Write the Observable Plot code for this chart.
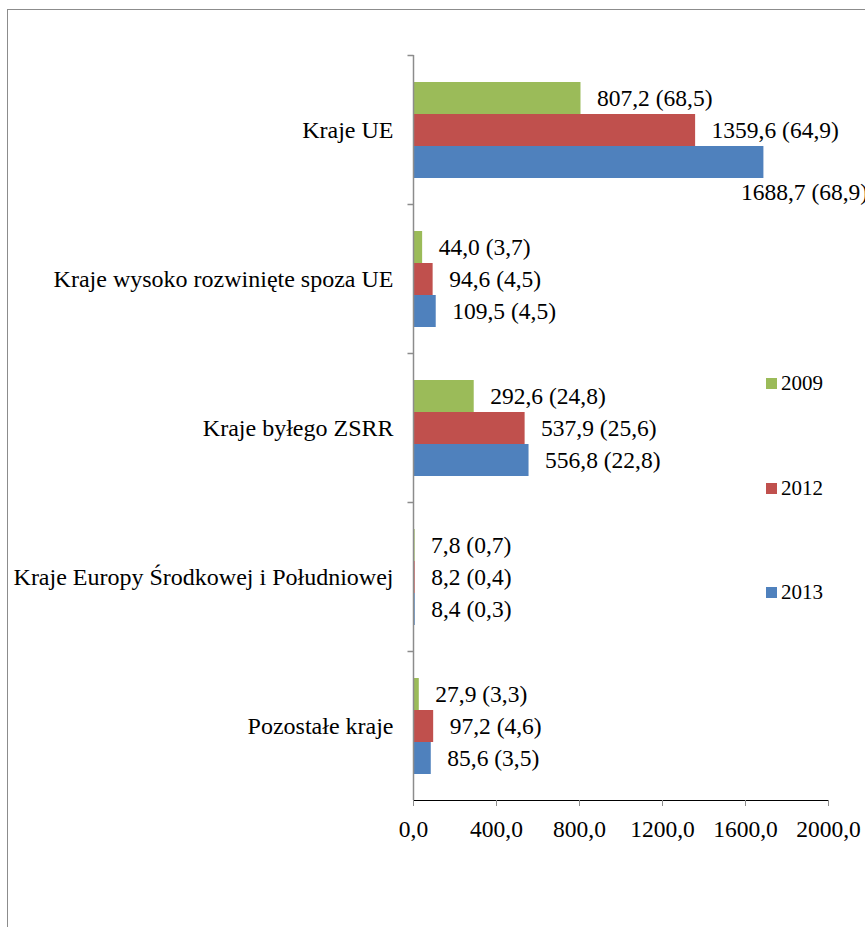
<!DOCTYPE html>
<html><head><meta charset="utf-8">
<script src="https://cdn.jsdelivr.net/npm/d3@7"></script>
<script src="https://cdn.jsdelivr.net/npm/@observablehq/plot@0.6"></script>
<style>
html,body{margin:0;padding:0;background:#fff;overflow:hidden;}
#wrap{position:relative;width:865px;height:927px;overflow:hidden;font-family:"Liberation Serif","Times New Roman",Times,serif;}
#border{position:absolute;left:7px;top:9px;width:920px;height:960px;border:1.5px solid #8c8c8c;box-sizing:border-box;}
#chart{position:absolute;left:0;top:0;}
#chart svg, #chart svg text{font-family:"Liberation Serif","Times New Roman",Times,serif !important;font-size:23.5px;}
#chart svg [aria-label*="fy-axis"] text{font-size:24px;}
#chart svg [aria-label*="axis"] line, #chart svg [aria-label*="axis"] path{stroke:#8c8c8c;stroke-opacity:1;}
.leg{position:absolute;display:flex;align-items:center;height:26px;font-size:21px;color:#000;}
.leg span.sw{display:inline-block;width:11px;height:11px;margin-right:4px;}
</style></head>
<body>
<div id="wrap"><div id="border"></div><div id="chart"></div><div id="legend"></div></div>
<script>
const categories = ["Kraje UE","Kraje wysoko rozwinięte spoza UE","Kraje byłego ZSRR","Kraje Europy Środkowej i Południowej","Pozostałe kraje"];
const years = ["2009","2012","2013"];
const values2009 = [807.2, 44.0, 292.6, 7.8, 27.9];
const shares2009 = [68.5, 3.7, 24.8, 0.7, 3.3];
const values2012 = [1359.6, 94.6, 537.9, 8.2, 97.2];
const shares2012 = [64.9, 4.5, 25.6, 0.4, 4.6];
const values2013 = [1688.7, 109.5, 556.8, 8.4, 85.6];
const shares2013 = [68.9, 4.5, 22.8, 0.3, 3.5];
const colors = ["#9bbb59", "#c0504d", "#4f81bd"];
const xTicks = [0, 400, 800, 1200, 1600, 2000];

const fmt = v => v.toFixed(1).replace(".", ",");
const valuesByYear = [values2009, values2012, values2013];
const sharesByYear = [shares2009, shares2012, shares2013];
const rows = [];
categories.forEach((c, i) => {
  years.forEach((y, j) => {
    const v = valuesByYear[j][i], s = sharesByYear[j][i];
    rows.push({category: c, year: y, value: v, label: `${fmt(v)} (${fmt(s)})`});
  });
});
const fits = d => d.value < 1500;

const chart = Plot.plot({
  width: 865, height: 927,
  marginLeft: 413, marginRight: 37, marginTop: 54, marginBottom: 127,
  style: {fontSize: "23.5px", color: "#000", background: "transparent", overflow: "visible"},
  x: {domain: [0, 2000], ticks: xTicks, tickFormat: fmt, tickSize: 6, tickPadding: 14, line: true, label: null},
  y: {domain: years, paddingInner: 0, paddingOuter: 0.76, axis: null},
  fy: {domain: categories, padding: 0, axis: "left", tickSize: 0, tickPadding: 20, label: null},
  color: {domain: years, range: colors},
  facet: {data: rows, y: "category"},
  marks: [
    Plot.barX(rows, {x: "value", y: "year", fill: "year"}),
    Plot.text(rows, {filter: fits, x: "value", y: "year", text: "label", textAnchor: "start", dx: 16, fill: "#000"}),
    Plot.text(rows, {filter: d => !fits(d), x: "value", y: "year", text: "label", textAnchor: "start", dx: -23, dy: 30, fill: "#000"}),
    Plot.frame({stroke: "#8c8c8c", strokeWidth: 1.5, insetLeft: -6, strokeDasharray: "6 100000"}),
    Plot.ruleX([0], {stroke: "#8c8c8c", strokeWidth: 1.5})
  ]
});
document.getElementById("chart").appendChild(chart);

const legendTops = [370, 475, 579];
const leg = document.getElementById("legend");
years.forEach((y, i) => {
  const d = document.createElement("div");
  d.className = "leg";
  d.style.left = "766px";
  d.style.top = legendTops[i] + "px";
  d.innerHTML = `<span class="sw" style="background:${colors[i]}"></span>${y}`;
  leg.appendChild(d);
});
</script>
</body></html>
